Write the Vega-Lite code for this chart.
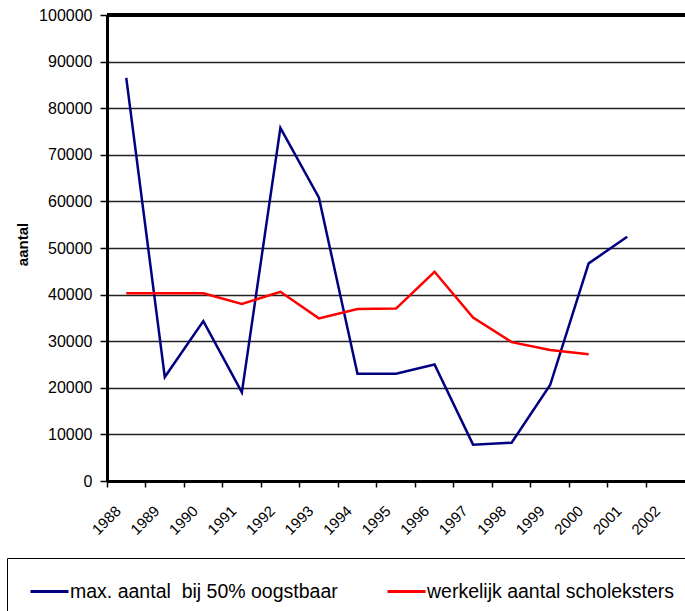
{
  "$schema": "https://vega.github.io/schema/vega-lite/v6.json",
  "autosize": {"type": "none"},
  "padding": {"left": 107, "top": 15, "right": 0, "bottom": 130},
  "width": 578,
  "height": 466,
  "background": "white",
  "config": {
    "view": {"stroke": null},
    "font": "Liberation Sans"
  },
  "data": {
    "values": [
      {"jaar": "1988", "reeks": "max. aantal  bij 50% oogstbaar", "aantal": 86500},
      {"jaar": "1989", "reeks": "max. aantal  bij 50% oogstbaar", "aantal": 22300},
      {"jaar": "1990", "reeks": "max. aantal  bij 50% oogstbaar", "aantal": 34300},
      {"jaar": "1991", "reeks": "max. aantal  bij 50% oogstbaar", "aantal": 19000},
      {"jaar": "1992", "reeks": "max. aantal  bij 50% oogstbaar", "aantal": 75800},
      {"jaar": "1993", "reeks": "max. aantal  bij 50% oogstbaar", "aantal": 60800},
      {"jaar": "1994", "reeks": "max. aantal  bij 50% oogstbaar", "aantal": 23000},
      {"jaar": "1995", "reeks": "max. aantal  bij 50% oogstbaar", "aantal": 23000},
      {"jaar": "1996", "reeks": "max. aantal  bij 50% oogstbaar", "aantal": 25000},
      {"jaar": "1997", "reeks": "max. aantal  bij 50% oogstbaar", "aantal": 7800},
      {"jaar": "1998", "reeks": "max. aantal  bij 50% oogstbaar", "aantal": 8200},
      {"jaar": "1999", "reeks": "max. aantal  bij 50% oogstbaar", "aantal": 20600},
      {"jaar": "2000", "reeks": "max. aantal  bij 50% oogstbaar", "aantal": 46700},
      {"jaar": "2001", "reeks": "max. aantal  bij 50% oogstbaar", "aantal": 52400},
      {"jaar": "1988", "reeks": "werkelijk aantal scholeksters", "aantal": 40300},
      {"jaar": "1989", "reeks": "werkelijk aantal scholeksters", "aantal": 40300},
      {"jaar": "1990", "reeks": "werkelijk aantal scholeksters", "aantal": 40300},
      {"jaar": "1991", "reeks": "werkelijk aantal scholeksters", "aantal": 38000},
      {"jaar": "1992", "reeks": "werkelijk aantal scholeksters", "aantal": 40600},
      {"jaar": "1993", "reeks": "werkelijk aantal scholeksters", "aantal": 34900},
      {"jaar": "1994", "reeks": "werkelijk aantal scholeksters", "aantal": 36900},
      {"jaar": "1995", "reeks": "werkelijk aantal scholeksters", "aantal": 37000},
      {"jaar": "1996", "reeks": "werkelijk aantal scholeksters", "aantal": 44900},
      {"jaar": "1997", "reeks": "werkelijk aantal scholeksters", "aantal": 35100},
      {"jaar": "1998", "reeks": "werkelijk aantal scholeksters", "aantal": 29800},
      {"jaar": "1999", "reeks": "werkelijk aantal scholeksters", "aantal": 28100},
      {"jaar": "2000", "reeks": "werkelijk aantal scholeksters", "aantal": 27200}
    ]
  },
  "layer": [
    {
      "mark": {"type": "line", "strokeWidth": 2.5, "strokeJoin": "miter"},
      "encoding": {
        "x": {
          "field": "jaar",
          "type": "ordinal",
          "scale": {
            "type": "band",
            "domain": ["1988","1989","1990","1991","1992","1993","1994","1995","1996","1997","1998","1999","2000","2001","2002"],
            "paddingInner": 0,
            "paddingOuter": 0
          },
          "axis": {
            "title": null,
            "bandPosition": 0,
            "domainColor": "black",
            "domainWidth": 3,
            "tickColor": "black",
            "tickWidth": 1.5,
            "tickSize": 6,
            "labelAngle": -45,
            "labelAlign": "right",
            "labelBaseline": "middle",
            "labelOffset": -8,
            "labelPadding": 21,
            "labelFontSize": 15,
            "labelColor": "black",
            "labelFont": "Liberation Sans",
            "grid": false
          }
        },
        "y": {
          "field": "aantal",
          "type": "quantitative",
          "scale": {"domain": [0, 100000], "nice": false},
          "axis": {
            "title": "aantal",
            "titleFont": "Liberation Sans",
            "titleFontSize": 15,
            "titleFontWeight": "bold",
            "titleColor": "black",
            "titleAngle": -90,
            "titleX": -85,
            "titleY": 229,
            "titleAlign": "center",
            "titleBaseline": "middle",
            "values": [0,10000,20000,30000,40000,50000,60000,70000,80000,90000,100000],
            "format": "d",
            "domainColor": "black",
            "domainWidth": 3,
            "tickColor": "black",
            "tickWidth": 1.5,
            "tickSize": 7,
            "labelPadding": 8,
            "labelFontSize": 16,
            "labelColor": "black",
            "labelFont": "Liberation Sans",
            "grid": true,
            "gridColor": "#222222",
            "gridOpacity": 1,
            "gridWidth": 1.5
          }
        },
        "color": {
          "field": "reeks",
          "type": "nominal",
          "scale": {
            "domain": ["max. aantal  bij 50% oogstbaar", "werkelijk aantal scholeksters"],
            "range": ["#000080", "#ff0000"]
          },
          "legend": {
            "title": null,
            "orient": "none",
            "legendX": -100,
            "legendY": 543,
            "direction": "horizontal",
            "strokeColor": "black",
            "fillColor": "white",
            "padding": 22,
            "symbolType": "M-1,0H2.8",
            "symbolSize": 400,
            "symbolStrokeWidth": 3,
            "labelOffset": 18,
            "labelFontSize": 19.5,
            "labelFont": "Liberation Sans",
            "labelColor": "black",
            "labelLimit": 400,
            "labelExpr": "replace(datum.label, '  ', '\u00a0 ')",
            "columnPadding": 43
          }
        }
      }
    },
    {
      "mark": {"type": "rule", "color": "black", "strokeWidth": 3},
      "encoding": {
        "y": {"datum": 100000}
      }
    }
  ]
}
